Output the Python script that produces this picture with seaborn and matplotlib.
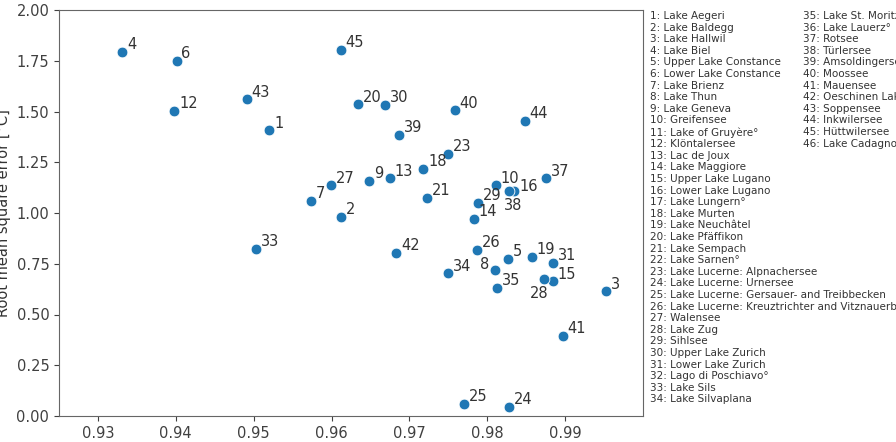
import numpy as np
import pandas as pd
import seaborn as sns
import matplotlib
matplotlib.use("Agg")
import matplotlib.pyplot as plt

# Datos (correlación vs. error cuadrático medio)
lake_ids = [1, 2, 3, 4, 5, 6, 7, 8, 9, 10, 12, 13, 14, 15, 16, 18, 19, 20, 21, 23,
            24, 25, 26, 27, 28, 29, 30, 31, 33, 34, 35, 37, 38, 39, 40, 41, 42, 43, 44, 45]
correlation = [0.9520, 0.9612, 0.9952, 0.9331, 0.9826, 0.9401, 0.9573, 0.9810, 0.9648, 0.9811,
               0.9398, 0.9675, 0.9783, 0.9884, 0.9834, 0.9718, 0.9857, 0.9634, 0.9723, 0.9750,
               0.9828, 0.9770, 0.9787, 0.9599, 0.9873, 0.9788, 0.9669, 0.9885, 0.9503, 0.9750,
               0.9813, 0.9875, 0.9828, 0.9687, 0.9758, 0.9897, 0.9683, 0.9491, 0.9848, 0.9612]
rmse = [1.407, 0.979, 0.614, 1.792, 0.773, 1.749, 1.059, 0.718, 1.158, 1.136,
        1.504, 1.171, 0.970, 0.663, 1.110, 1.217, 0.785, 1.535, 1.074, 1.292,
        0.046, 0.058, 0.818, 1.136, 0.675, 1.048, 1.531, 0.755, 0.823, 0.703,
        0.632, 1.171, 1.110, 1.384, 1.506, 0.396, 0.805, 1.560, 1.452, 1.805]

lake_names = [
    "Lake Aegeri", "Lake Baldegg", "Lake Hallwil", "Lake Biel", "Upper Lake Constance",
    "Lower Lake Constance", "Lake Brienz", "Lake Thun", "Lake Geneva", "Greifensee",
    "Lake of Gruyère°", "Klöntalersee", "Lac de Joux", "Lake Maggiore", "Upper Lake Lugano",
    "Lower Lake Lugano", "Lake Lungern°", "Lake Murten", "Lake Neuchâtel", "Lake Pfäffikon",
    "Lake Sempach", "Lake Sarnen°", "Lake Lucerne: Alpnachersee", "Lake Lucerne: Urnersee",
    "Lake Lucerne: Gersauer- and Treibbecken",
    "Lake Lucerne: Kreuztrichter and Vitznauerbecken", "Walensee", "Lake Zug", "Sihlsee",
    "Upper Lake Zurich", "Lower Lake Zurich", "Lago di Poschiavo°", "Lake Sils",
    "Lake Silvaplana", "Lake St. Moritz", "Lake Lauerz°", "Rotsee", "Türlersee",
    "Amsoldingersee", "Moossee", "Mauensee", "Oeschinen Lake", "Soppensee", "Inkwilersee",
    "Hüttwilersee", "Lake Cadagno",
]

df = pd.DataFrame({"id": lake_ids, "r": correlation, "rmse": rmse})

sns.set_style("ticks")
plt.rcParams["font.family"] = ["DejaVu Sans"]

fig = plt.figure(figsize=(8.96, 4.42), dpi=100)
ax = fig.add_axes([59 / 896, 26 / 442, (643 - 59) / 896, (416 - 10) / 442])

sns.scatterplot(data=df, x="r", y="rmse", ax=ax, color="#1f77b4", s=60,
                edgecolor="white", linewidth=0.6, zorder=3)

# Posición de las etiquetas (desplazamientos especiales)
special = {
    8: ((-4, 1), "right", "baseline"),
    16: ((4, 0), "left", "baseline"),
    38: ((-4, -5), "left", "top"),
    28: ((3, -5), "right", "top"),
}
for _, row in df.iterrows():
    k = int(row["id"])
    off, ha, va = special.get(k, ((3.5, 2), "left", "baseline"))
    ax.annotate(str(k), (row["r"], row["rmse"]), xytext=off, textcoords="offset points",
                ha=ha, va=va, fontsize=10.5, color=".2")

ax.set_xlim(0.925, 1.0)
ax.set_ylim(0, 2)
ax.set_xticks([0.93, 0.94, 0.95, 0.96, 0.97, 0.98, 0.99])
ax.set_yticks(np.arange(0, 2.01, 0.25))
ax.set_yticklabels([f"{v:.2f}" for v in np.arange(0, 2.01, 0.25)])
ax.tick_params(labelsize=10.5, colors=".25")
ax.set_xlabel("")
ax.set_ylabel("Root mean square error [°C]", fontsize=10.5, color=".2")
for sp in ax.spines.values():
    sp.set_color(".4")

# Lista de lagos a la derecha
col1 = "\n".join(f"{i + 1}: {n}" for i, n in enumerate(lake_names[:34]))
col2 = "\n".join(f"{i + 35}: {n}" for i, n in enumerate(lake_names[34:]))
fig.text(650 / 896, 1 - 11 / 442, col1, fontsize=7.5, va="top", ha="left",
         color=".2", linespacing=1.2)
fig.text(803 / 896, 1 - 11 / 442, col2, fontsize=7.5, va="top", ha="left",
         color=".2", linespacing=1.2)

fig.savefig("out.png", dpi=100)
